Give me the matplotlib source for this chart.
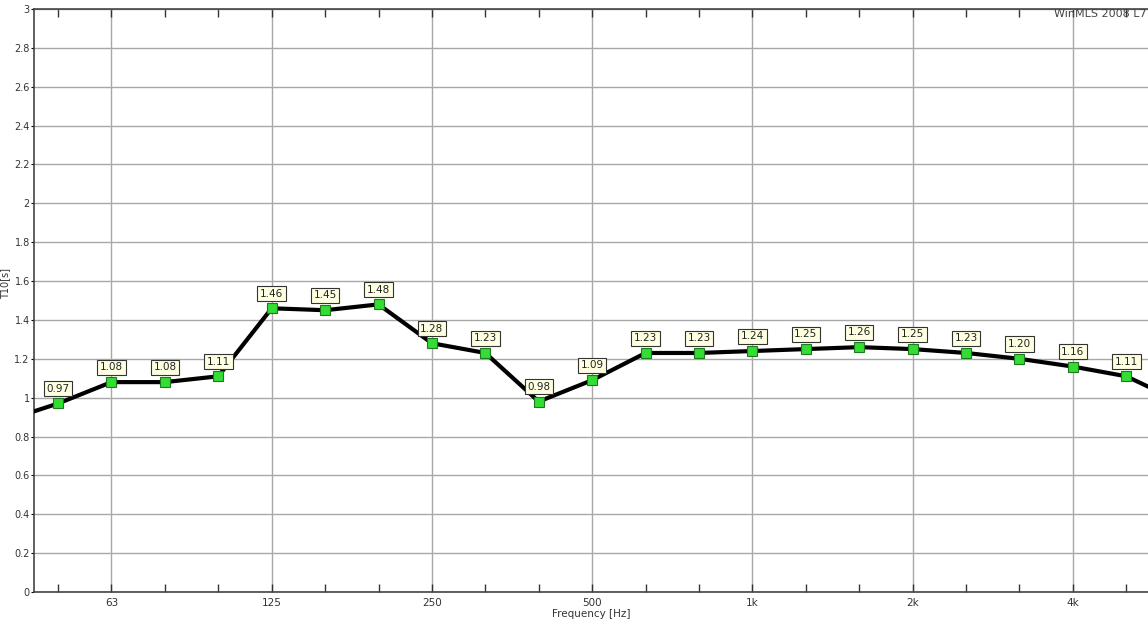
import numpy as np
import matplotlib.pyplot as plt
from matplotlib.ticker import FixedLocator, NullFormatter

# third-octave bands, 40 Hz .. 6.3 kHz (outer two are off the visible range)
band_index = list(range(-14, 9))
t10 = [0.88, 0.97, 1.08, 1.08, 1.11, 1.46, 1.45, 1.48, 1.28, 1.23, 0.98, 1.09,
       1.23, 1.23, 1.24, 1.25, 1.26, 1.25, 1.23, 1.20, 1.16, 1.11, 0.98]
show_label = [False] + [True] * 21 + [False]

octave_ticks = [63, 125, 250, 500, 1000, 2000, 4000]
octave_labels = ['63', '125', '250', '500', '1k', '2k', '4k']
y_ticks = [0, 0.2, 0.4, 0.6, 0.8, 1, 1.2, 1.4, 1.6, 1.8, 2, 2.2, 2.4, 2.6, 2.8, 3]

freqs = [1000 * 2 ** (n / 3) for n in band_index]

fig = plt.figure(figsize=(11.48, 6.25), dpi=100)
ax = fig.add_axes([0.0296, 0.0528, 0.9704, 0.9328])

ax.set_xscale('log')
ax.set_xlim(44.7, 5536)
ax.set_ylim(0, 3)

ax.plot(freqs, t10, color='black', lw=3, zorder=3, solid_joinstyle='miter')
ax.plot(freqs[1:-1], t10[1:-1], ls='none', marker='s', ms=7,
        mfc='#33dd33', mec='#1f7a1f', mew=0.8, zorder=4)

for f, v, lab in zip(freqs, t10, show_label):
    if not lab:
        continue
    ax.annotate(f'{v:.2f}', (f, v), xytext=(0, 7), textcoords='offset points',
                ha='center', va='bottom', fontsize=7.5, color='#222222', zorder=5,
                bbox=dict(boxstyle='square,pad=0.25', fc='#ffffe1', ec='#333333', lw=0.8))

# octave gridlines labelled, third-octave positions as minor ticks
major = [1000 * 2 ** (k) for k in range(-4, 3)]
minor = [1000 * 2 ** (n / 3) for n in range(-13, 8)]
ax.xaxis.set_major_locator(FixedLocator(major))
ax.set_xticklabels(octave_labels)
ax.xaxis.set_minor_locator(FixedLocator(minor))
ax.xaxis.set_minor_formatter(NullFormatter())
ax.set_yticks(y_ticks)
ax.set_yticklabels([f'{t:g}' for t in y_ticks])

ax.tick_params(axis='x', which='both', direction='in', top=True, length=6,
               width=1, color='#333333', labelsize=7.5, labelcolor='#333333', pad=4)
ax.tick_params(axis='y', direction='out', length=2, labelsize=7,
               labelcolor='#333333', pad=1)

ax.grid(True, which='major', color='#a8a8a8', lw=1)
ax.set_axisbelow(True)
for side in ['left', 'bottom', 'top']:
    ax.spines[side].set_color('#444444')
    ax.spines[side].set_linewidth(1.2)
ax.spines['right'].set_visible(False)

ax.set_xlabel('Frequency [Hz]', fontsize=7.5, color='#333333', labelpad=1)
ax.set_ylabel('T10[s]', fontsize=7, color='#333333', labelpad=2)
ax.yaxis.set_label_coords(-0.021, 0.53)

fig.text(0.999, 0.978, 'WinMLS 2008 L7', ha='right', va='center',
         fontsize=8, color='#444444')

fig.savefig('out.png', dpi=100, facecolor='white')
